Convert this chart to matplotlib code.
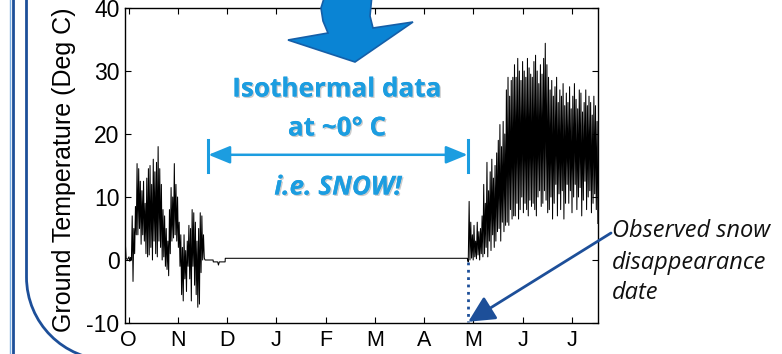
import numpy as np
import matplotlib
matplotlib.use("Agg")
import matplotlib.pyplot as plt
from matplotlib.patches import Polygon, PathPatch
from matplotlib.path import Path
import matplotlib.patheffects as pe

# daily max / min ground temperature (day 0 = 1 Oct)
lead_days = [-2.2, -1.5, -0.6]
lead_temp = [3.7, 0.2, 0.1]

autumn_start = 0
autumn_max = [0.5, 0.4, 7.0, 5, 8.5, 15.3, 14.5, 12.5, 11, 12.5, 9, 13, 14.5, 15, 12,
              16, 14, 15.5, 18, 14.5, 12, 8, 7, 5, 3, 8, 11.5, 10, 15.3, 12, 10, 6,
              4, 2, 4, 1.5, 3, 5.5, 5, 8, 7.5, 6, 3, 5, 7.5, 7, 4]
autumn_min = [-0.2, 0, -3.4, 1, 4, 4, 5, 2.5, 4, 3, 1, 0.5, 0.8, 2, 0, 3, 1, 0.5, 3,
              2, 0, 0.5, -1, -1.5, -2.5, 1, 3, 3.5, 4, 3, 2, -1, -5.5, -6.5, -3, -5,
              -1, -3, -6.5, -1, -4, -5.5, -7.5, -7, -2, 0, 0.3]

# snow covered period: isothermal near 0 C
iso_days = [47.2, 52.2, 52.3, 55.0, 55.5, 56.0, 59.6, 59.7, 209.1, 209.7]
iso_temp = [0.0, 0.0, -0.3, -0.3, -0.8, -0.3, -0.3, 0.27, 0.27, -0.3]

spring_start = 210
spring_max = [9.3, 6, 4, 5.5, 3, 6, 4.5, 5, 7,
              12, 9, 15.5, 11, 14, 16, 13, 15, 17,
              19, 21.5, 18, 22, 20,
              27, 29, 26, 28.5, 29,
              31, 29, 32, 30, 28.5, 31.5, 30, 29, 32, 30.5, 29.5,
              29, 31.5, 32.5, 30, 28, 31, 29.5, 32, 34.4, 31,
              29, 27, 28.5, 26, 27.5, 29, 25, 27, 26, 28, 24.5, 26.5,
              25, 27.5, 24, 26, 28, 25.5, 24, 27, 26.5, 23.5, 25, 27, 24.5, 26, 25,
              23, 26, 24.5, 22]
spring_min = [0, 0.3, 0, 0.5, 0.2, 0.8, 0, 1, 0.5,
              1, 2, 0.5, 3, 1.5, 4, 2, 3, 4.5,
              5, 3, 6, 4.5, 5.5,
              6, 5.5, 8, 6.5, 7,
              7, 9, 6.5, 8, 10, 7.5, 9, 8, 7, 9.5, 8.5,
              9, 8, 7, 10, 11, 8.5, 9, 11, 9.5, 7.5,
              8, 10, 6.5, 9, 12, 7, 10.5, 8, 11, 6.5, 9, 12,
              9, 11, 7.5, 10, 12, 8, 10, 11.5, 7, 9.5, 12.5, 8, 10, 11, 7.5,
              9, 10.5, 8, 5.8]

month_labels = ['O', 'N', 'D', 'J', 'F', 'M', 'A', 'M', 'J', 'J']
snow_gone_day = 209.7

W, H = 782, 354


def fx(x):
    return x / W


def fy(y):
    return 1 - y / H


def zigzag(start, highs, lows):
    xs, ys = [], []
    for i, (hi, lo) in enumerate(zip(highs, lows)):
        xs += [start + i + 0.25, start + i + 0.75]
        ys += [hi, lo]
    return xs, ys


ax_x, ax_y = zigzag(autumn_start, autumn_max, autumn_min)
sp_x, sp_y = zigzag(spring_start, spring_max, spring_min)
days = lead_days + ax_x + iso_days + sp_x
temp = lead_temp + ax_y + iso_temp + sp_y

plt.rcParams['font.family'] = ['Liberation Sans', 'DejaVu Sans']
plt.rcParams['axes.unicode_minus'] = False

fig = plt.figure(figsize=(W / 100, H / 100), dpi=100)
ax = fig.add_axes([fx(125), fy(323), (598 - 125) / W, (323 - 8) / H])

ax.plot(days, temp, color='black', lw=0.75)
ax.set_xlim(-2.2, 289.8)
ax.set_ylim(-10, 40)
ax.set_xticks(np.arange(len(month_labels)) * 365 / 12)
ax.set_xticklabels(month_labels)
ax.set_yticks([-10, 0, 10, 20, 30, 40])
ax.tick_params(direction='in', top=True, right=True, length=4, width=0.8)
ax.tick_params(axis='x', pad=5, labelsize=15.5)
ax.tick_params(axis='y', pad=4, labelsize=16.5)
for s in ax.spines.values():
    s.set_linewidth(1.0)

fig.text(fx(64), fy(170), 'Ground Temperature (Deg C)', rotation=90,
         ha='center', va='center', fontsize=18)

light_blue = '#1c9de0'
dark_blue = '#1d4f99'
shadow = [pe.withSimplePatchShadow(offset=(1, -1), shadow_rgbFace='gray', alpha=0.4),
          pe.Normal()]

fig.text(fx(337), fy(89), 'Isothermal data', ha='center', va='center',
         fontsize=18.8, fontweight='bold', color=light_blue, family='Open Sans',
         path_effects=shadow)
fig.text(fx(337), fy(128), 'at ~0° C', ha='center', va='center',
         fontsize=18.8, fontweight='bold', color=light_blue, family='Open Sans',
         path_effects=shadow)
fig.text(fx(338), fy(187), 'i.e. SNOW!', ha='center', va='center',
         fontsize=18.8, fontweight='bold', style='italic', color=light_blue,
         family='Open Sans', path_effects=shadow)

# span arrow for the snow period
d0 = (208.3 - 128.5) / 1.619
d1 = (467.3 - 128.5) / 1.619
ax.annotate('', xy=(d0, 16.7), xytext=(d1, 16.7),
            arrowprops=dict(arrowstyle='<|-|>,head_length=1.1,head_width=0.45',
                            color=light_blue, lw=1.8, mutation_scale=12,
                            shrinkA=0, shrinkB=0))
for d in (d0, d1):
    ax.plot([d, d], [14.0, 19.0], color=light_blue, lw=2.2)

# snow disappearance marker
ax.plot([snow_gone_day, snow_gone_day], [-0.3, -9.8], ':', color=dark_blue, lw=2)
ax.annotate('', xy=(snow_gone_day, -9.8), xytext=(fx(611), fy(233)),
            textcoords='figure fraction', annotation_clip=False,
            arrowprops=dict(arrowstyle='-|>,head_length=1.0,head_width=0.5',
                            color=dark_blue, lw=2, mutation_scale=16,
                            shrinkA=0, shrinkB=0))
for txt, yy in [('Observed snow', 231), ('disappearance', 263), ('date', 293)]:
    fig.text(fx(612), fy(yy), txt, ha='left', va='center', fontsize=17,
             style='italic', family='Open Sans', color='#111111')

# big curved arrow at the top
arrow_pts = [(325, -5), (321, 8), (323, 21), (328, 33), (288, 40), (355, 62),
             (413, 22), (373, 28), (370, 16), (372, -5)]
big = Polygon([(fx(x), fy(y)) for x, y in arrow_pts], closed=True,
              transform=fig.transFigure, facecolor='#0a84d4',
              edgecolor='#155fa8', lw=1.2, zorder=10)
fig.add_artist(big)

# frame on the left side of the slide
fig.add_artist(plt.Line2D([fx(10), fx(10)], [0, 1], color='#7fb2e5', lw=1,
                          transform=fig.transFigure))
fig.add_artist(plt.Line2D([fx(12.5), fx(12.5)], [0, 1], color=dark_blue, lw=2,
                          transform=fig.transFigure))
r = 83
k = 0.5523 * r
verts = [(26.5, -5), (26.5, 277), (26.5, 277 + k), (26.5 + r - k, 277 + r),
         (26.5 + r, 277 + r), (800, 277 + r)]
codes = [Path.MOVETO, Path.LINETO, Path.CURVE4, Path.CURVE4, Path.CURVE4,
         Path.LINETO]
frame = PathPatch(Path([(fx(x), fy(y)) for x, y in verts], codes),
                  transform=fig.transFigure, fill=False, edgecolor=dark_blue,
                  lw=2)
fig.add_artist(frame)

fig.savefig('out.png', dpi=100)
